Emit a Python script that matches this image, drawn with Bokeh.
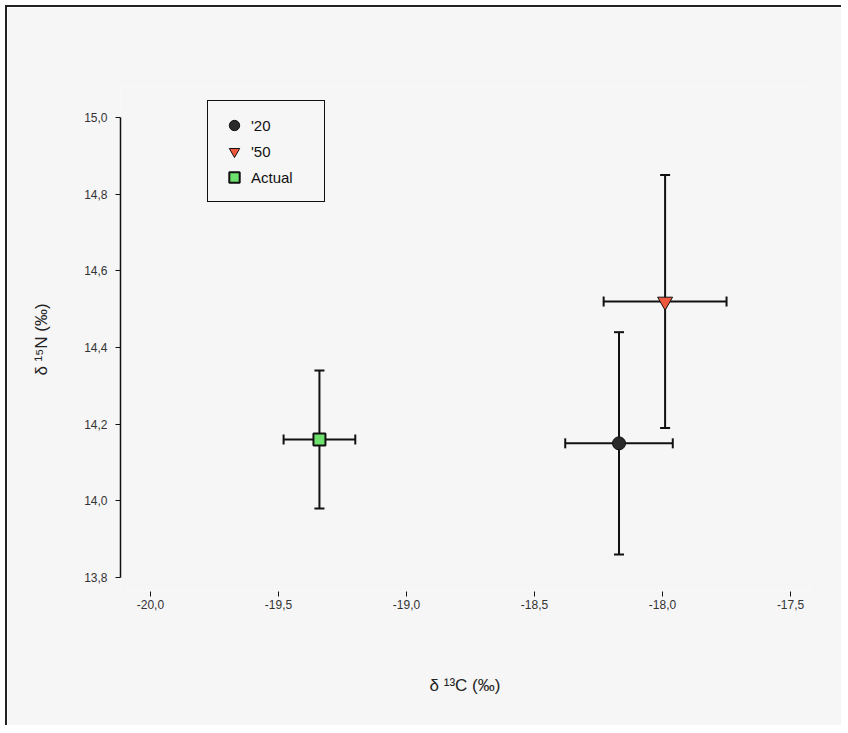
from bokeh.plotting import figure
from bokeh.models import ColumnDataSource, Whisker, TeeHead, FixedTicker, Range1d, Legend, LegendItem
from bokeh.embed import file_html
from bokeh.resources import INLINE

# ---- data ----
series = ["'20", "'50", "Actual"]
c13 = [-18.17, -17.99, -19.34]
c13_err = [0.21, 0.24, 0.14]
n15 = [14.15, 14.52, 14.16]
n15_err = [0.29, 0.33, 0.18]
x_ticks = [-20.0, -19.5, -19.0, -18.5, -18.0, -17.5]
x_tick_labels = ["-20,0", "-19,5", "-19,0", "-18,5", "-18,0", "-17,5"]
y_ticks = [13.8, 14.0, 14.2, 14.4, 14.6, 14.8, 15.0]
y_tick_labels = ["13,8", "14,0", "14,2", "14,4", "14,6", "14,8", "15,0"]

BG = "#f6f6f6"
FONT = "Liberation Sans"

p = figure(width=836, height=720, output_backend="svg", toolbar_location=None,
           x_range=Range1d(-20.117, -17.426), y_range=Range1d(13.7635, 15.0783),
           min_border_left=113, min_border_top=80, min_border_bottom=136, min_border_right=34)
p.background_fill_color = BG
p.border_fill_color = BG
p.outline_line_color = None
p.grid.visible = False
p.styles = {"border-top": "2px solid #222", "border-left": "2px solid #222",
            "margin-left": "5px", "margin-top": "5px"}

src = ColumnDataSource(dict(
    x=c13, y=n15,
    xl=[a - b for a, b in zip(c13, c13_err)], xu=[a + b for a, b in zip(c13, c13_err)],
    yl=[a - b for a, b in zip(n15, n15_err)], yu=[a + b for a, b in zip(n15, n15_err)],
))

for dim, base, lo, up in [("height", "x", "yl", "yu"), ("width", "y", "xl", "xu")]:
    w = Whisker(source=src, base=base, lower=lo, upper=up, dimension=dim,
                line_color="#111", line_width=2,
                upper_head=TeeHead(size=10, line_color="#111", line_width=2),
                lower_head=TeeHead(size=10, line_color="#111", line_width=2))
    p.add_layout(w)

r1 = p.scatter([c13[0]], [n15[0]], marker="circle", size=13, fill_color="#2a2a2a", line_color="#111")
r2 = p.scatter([c13[1]], [n15[1]], marker="inverted_triangle", size=15, fill_color="#f0583e", line_color="#111", line_width=1)
r3 = p.scatter([c13[2]], [n15[2]], marker="square", size=12, fill_color="#6ee06e", line_color="#111", line_width=2)

legend = Legend(items=[LegendItem(label=series[0], renderers=[r1]),
                       LegendItem(label=series[1], renderers=[r2]),
                       LegendItem(label=series[2], renderers=[r3])],
                location=(87, 389), padding=11, spacing=0, glyph_width=30, glyph_height=26,
                label_standoff=2, label_width=62, label_height=20, margin=0,
                label_text_font=FONT, label_text_font_size="15px", label_text_color="#111",
                border_line_color="#111", border_line_width=1, border_line_alpha=1.0,
                background_fill_color=BG, background_fill_alpha=1)
p.add_layout(legend)

# axes
xa = p.xaxis[0]
xa.ticker = FixedTicker(ticks=x_ticks)
xa.major_label_overrides = {t: l for t, l in zip(x_ticks, x_tick_labels)}
xa.axis_line_color = None
xa.major_tick_in = 0
xa.major_tick_out = 5
xa.major_tick_line_color = "#111"
xa.minor_tick_line_color = None
xa.major_label_standoff = 3
xa.major_label_text_font = FONT
xa.major_label_text_font_size = "12px"
xa.major_label_text_color = "#333"
xa.axis_label = "δ ¹³C (‰)"
xa.axis_label_text_font = FONT
xa.axis_label_text_font_size = "17px"
xa.axis_label_text_font_style = "normal"
xa.axis_label_text_color = "#222"
xa.axis_label_standoff = 64

ya = p.yaxis[0]
ya.ticker = FixedTicker(ticks=y_ticks)
ya.major_label_overrides = {t: l for t, l in zip(y_ticks, y_tick_labels)}
ya.bounds = (13.8, 15.0)
ya.axis_line_color = "#111"
ya.axis_line_width = 1.5
ya.major_tick_in = 0
ya.major_tick_out = 5
ya.major_tick_line_color = "#111"
ya.minor_tick_line_color = None
ya.major_label_standoff = 8
ya.major_label_text_font = FONT
ya.major_label_text_font_size = "12px"
ya.major_label_text_color = "#333"
ya.axis_label = "δ ¹⁵N (‰)"
ya.axis_label_text_font = FONT
ya.axis_label_text_font_size = "17px"
ya.axis_label_text_font_style = "normal"
ya.axis_label_text_color = "#222"
ya.axis_label_standoff = 30

open("out.html", "w").write(file_html(p, INLINE))
